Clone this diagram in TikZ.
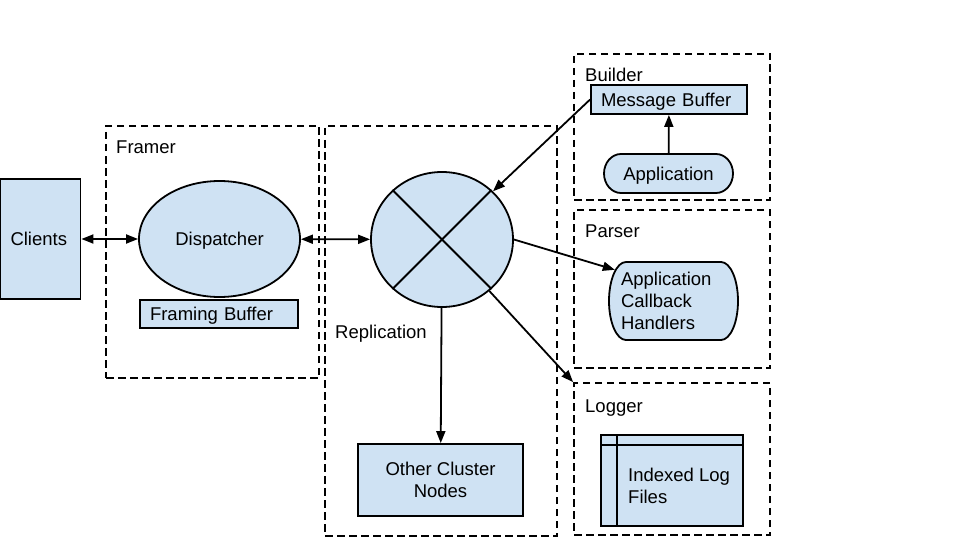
\documentclass[tikz,border=0pt]{standalone}
\usepackage{fontspec}
\setmainfont{Liberation Sans}
\usetikzlibrary{arrows.meta,shapes.geometric}
\definecolor{boxblue}{HTML}{CFE2F3}
\def\termbox[#1](#2,#3)(#4,#5)(#6){\draw[#1] ({#2+#6},#3) -- ({#4-#6},#3) arc[start angle=-90, end angle=90, x radius=#6, y radius={(#5-#3)/2}] -- ({#2+#6},#5) arc[start angle=90, end angle=270, x radius=#6, y radius={(#5-#3)/2}] -- cycle;}
\tikzset{
	bluebox/.style={draw, fill=boxblue, line width=1.8pt, inner sep=0pt},
	groupbox/.style={draw, dash pattern=on 7.5pt off 4.5pt, line width=1.8pt, inner sep=0pt},
	captext/.style={text height=13.2pt, text depth=0pt},
	lbl/.style={anchor=base west, inner sep=0pt},
	arr/.style={-{Triangle[length=12pt,width=9pt]}, line width=1.8pt},
	biarr/.style={{Triangle[length=12pt,width=9pt]}-{Triangle[length=12pt,width=9pt]}, line width=1.8pt}
}

\begin{document}
\begin{tikzpicture}[x=1pt, y=-1pt, font=\fontsize{18.5}{22}\selectfont]
			%%%%% START %%%%%
			\useasboundingbox (0,0) rectangle (960,540);
			
			\node[groupbox, minimum width=213pt, minimum height=252pt] (framer) at (212.5,252) {};
			\node[lbl] at (116,154) {Framer};
			\node[groupbox, minimum width=232pt, minimum height=410pt] (replic) at (441,331) {};
			\node[lbl] at (335,338) {Replication};
			\node[groupbox, minimum width=196pt, minimum height=146pt] (builder) at (672,127) {};
			\node[lbl] at (585,82) {Builder};
			\node[groupbox, minimum width=196pt, minimum height=158pt] (parser) at (672,289) {};
			\node[lbl] at (585,237) {Parser};
			\node[groupbox, minimum width=196pt, minimum height=152pt] (logger) at (672,459) {};
			\node[lbl] at (585,412) {Logger};
			
			\node[bluebox, captext, text width=60pt, inner xsep=10pt, minimum height=120pt, align=left] (clients) at (40.5,239) {Clients};
			\node[bluebox, captext, ellipse, minimum width=161pt, minimum height=116pt] (disp) at (219.5,239) {Dispatcher};
			\node[bluebox, captext, text width=138pt, inner xsep=10pt, minimum height=28pt, align=left] (fbuf) at (219,314) {Framing Buffer};
			
			\node[bluebox, ellipse, minimum width=142pt, minimum height=135pt] (repl) at (442,239.5) {};
			\draw[line width=1.8pt] (repl.135) -- (repl.-45);
			\draw[line width=1.8pt] (repl.45) -- (repl.-135);
			\node[bluebox, minimum width=165pt, minimum height=72pt, align=center] (other) at (440.5,480) {Other Cluster\\Nodes};
			
			\node[bluebox, captext, text width=136pt, inner xsep=10pt, minimum height=29pt, align=left] (msgbuf) at (669,99.5) {Message Buffer};
			\termbox[bluebox](604,154)(733,193)(17)
			\node[captext, minimum width=95pt, minimum height=39pt, inner sep=0pt] (app) at (668.5,173.5) {Application};
			
			\termbox[bluebox](609,262)(738,340)(17)
			\node[text width=105pt, inner xsep=6pt, inner ysep=0pt, minimum height=78pt, align=left] (cb) at (673.5,301) {Application\\Callback\\Handlers};
			
			\node[bluebox, minimum width=142pt, minimum height=91pt] (logs) at (672,480.5) {};
			\draw[line width=1.8pt] ([yshift=-11pt]logs.north west) -- ([yshift=-11pt]logs.north east);
			\draw[line width=1.8pt] ([xshift=17pt]logs.north west) -- ([xshift=17pt]logs.south west);
			\node[align=left, anchor=west, inner sep=0pt] (logtxt) at (628,486) {Indexed Log\\Files};
			
			\draw[biarr] (clients) -- (disp);
			\draw[biarr] (disp) -- (repl);
			\draw[arr] (app) -- (msgbuf);
			\draw[arr] (msgbuf.west) -- (repl);
			\draw[arr] (repl.east) -- (cb.152);
			\draw[arr] (repl) -- (logger.north west);
			\draw[arr] (repl) -- (other);
			%%%%% END %%%%%
\end{tikzpicture}
\end{document}
